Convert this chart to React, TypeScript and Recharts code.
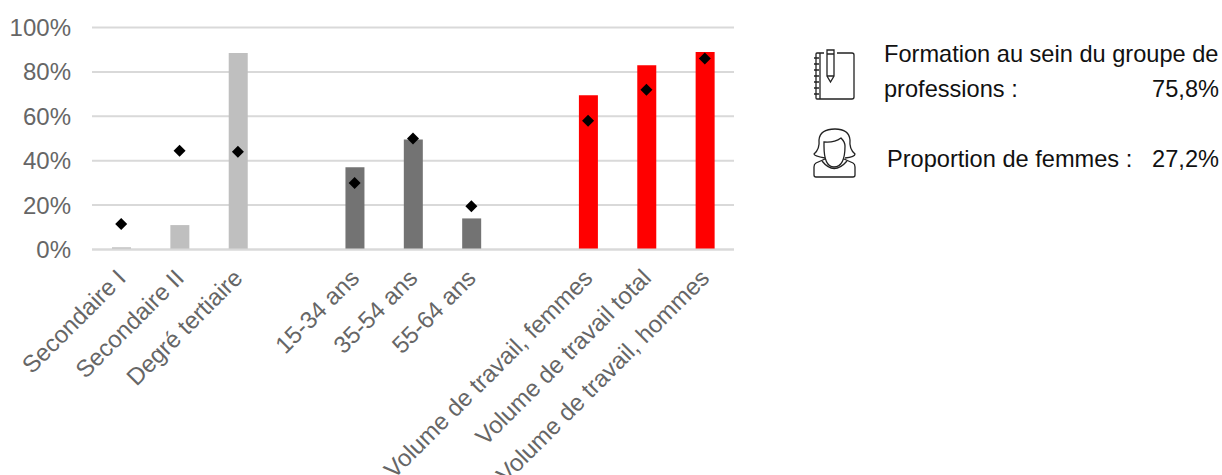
import { Bar, CartesianGrid, Cell, ComposedChart, Line, XAxis, YAxis } from "recharts";

// ── Data ───────────────────────────────────────────────────────────────────

const CATEGORIES = [
  "Secondaire I",
  "Secondaire II",
  "Degré tertiaire",
  " ",
  "15-34 ans",
  "35-54 ans",
  "55-64 ans",
  "  ",
  "Volume de travail, femmes",
  "Volume de travail total",
  "Volume de travail, hommes",
];
const BAR_VALUES = [1, 11, 88.5, null, 37, 49.5, 14, null, 69.5, 83, 89];
const DOT_VALUES = [11.5, 44.5, 44, null, 30, 50, 19.5, null, 58, 72, 86];
const BAR_COLORS = ["#bfbfbf", "#bfbfbf", "#bfbfbf", "#fff", "#737373", "#737373", "#737373", "#fff", "#ff0000", "#ff0000", "#ff0000"];
const Y_TICKS = [0, 20, 40, 60, 80, 100];

const chartData = CATEGORIES.map((name, i) => ({
  name,
  bar: BAR_VALUES[i],
  dot: DOT_VALUES[i],
}));

const FONT = '"Liberation Sans", Arial, sans-serif';
const AXIS_COLOR = "#666666";

// ── Custom ticks and marks ─────────────────────────────────────────────────

function SlantedTick({ x, y, payload }: any) {
  const tx = x + 6;
  const ty = y + 22;
  return (
    <text
      x={tx}
      y={ty}
      textAnchor="end"
      fontFamily={FONT}
      fontSize={24}
      fill={AXIS_COLOR}
      transform={`rotate(-45 ${tx} ${ty})`}
    >
      {payload.value}
    </text>
  );
}

function DiamondDot({ cx, cy, value }: any) {
  if (value == null || cy == null) return null;
  const r = 6;
  return <polygon points={`${cx},${cy - r} ${cx + r},${cy} ${cx},${cy + r} ${cx - r},${cy}`} fill="#000" />;
}

// ── Side panel ─────────────────────────────────────────────────────────────

function NotebookIcon() {
  return (
    <g fill="none" stroke="#222" strokeWidth={1.3}>
      <path d="M27 23 H34 M47 23 H62 Q64 23 64 25 V67 Q64 69 62 69 H27 Q26 69 26 68 V24 Q26 23 27 23" />
      <path d="M30 23 V69" />
      <path d="M24 28 H29 M24 34 H29 M24 40 H29 M24 46 H29 M24 52 H29 M24 58 H29 M24 64 H29" />
      <path d="M37 20 H44 V46 L40.5 52 L37 46 Z" />
      <path d="M37 24 H44 M37 46 H44" />
    </g>
  );
}

function WomanIcon() {
  return (
    <g fill="none" stroke="#222" strokeWidth={1.3}>
      <path d="M35 128 Q24 126 24 124 Q30 119 29 110 Q30 99 45 99 Q59 99 60 110 Q59 119 65 124 Q65 127 55 128" />
      <path d="M34 112 Q44 113 51 108 Q55 112 55 116 Q55 137 44 137 Q34 137 34 116 Z" />
      <path d="M35 129 L26 133 Q24 134 24 137 V145 Q24 147 26 147 H63 Q65 147 65 145 V137 Q65 134 63 133 L54 129" />
      <path d="M32 131 Q44 146 57 131" />
    </g>
  );
}

function SideText({ left, right, top, children }: any) {
  return (
    <div
      style={{
        position: "absolute",
        left,
        right,
        top,
        fontFamily: FONT,
        fontSize: 23.6,
        lineHeight: "26px",
        color: "#111",
        whiteSpace: "nowrap",
      }}
    >
      {children}
    </div>
  );
}

// ── Chart ──────────────────────────────────────────────────────────────────

export default function App() {
  return (
    <div style={{ position: "absolute", left: 0, top: 0, width: 1222, height: 475, overflow: "hidden", background: "#fff" }}>
      <ComposedChart
        width={1222}
        height={475}
        data={chartData}
        margin={{ top: 27.5, right: 488, bottom: 0, left: 0 }}
      >
        <CartesianGrid horizontal vertical={false} stroke="#d9d9d9" strokeWidth={2} />
        <XAxis
          dataKey="name"
          interval={0}
          height={225.5}
          axisLine={{ stroke: "#d9d9d9", strokeWidth: 2 }}
          tickLine={false}
          tick={<SlantedTick />}
        />
        <YAxis
          width={92}
          domain={[0, 100]}
          ticks={Y_TICKS}
          tickFormatter={(v: number) => `${v}%`}
          axisLine={false}
          tickLine={false}
          tickMargin={15}
          tick={{ fill: AXIS_COLOR, fontSize: 24, fontFamily: FONT }}
        />
        <Bar dataKey="bar" isAnimationActive={false} barSize={19}>
          {chartData.map((d, i) => (
            <Cell key={d.name} fill={BAR_COLORS[i]} />
          ))}
        </Bar>
        <Line dataKey="dot" stroke="none" dot={<DiamondDot />} activeDot={false} isAnimationActive={false} />
      </ComposedChart>

      <svg style={{ position: "absolute", left: 790, top: 30 }} width={80} height={170}>
        <NotebookIcon />
        <WomanIcon />
      </svg>

      <SideText left={884} top={41}>Formation au sein du groupe de</SideText>
      <SideText left={884} top={76}>professions :</SideText>
      <SideText right={3} top={76}>75,8%</SideText>
      <SideText left={887} top={146}>Proportion de femmes :</SideText>
      <SideText right={3} top={146}>27,2%</SideText>
    </div>
  );
}
